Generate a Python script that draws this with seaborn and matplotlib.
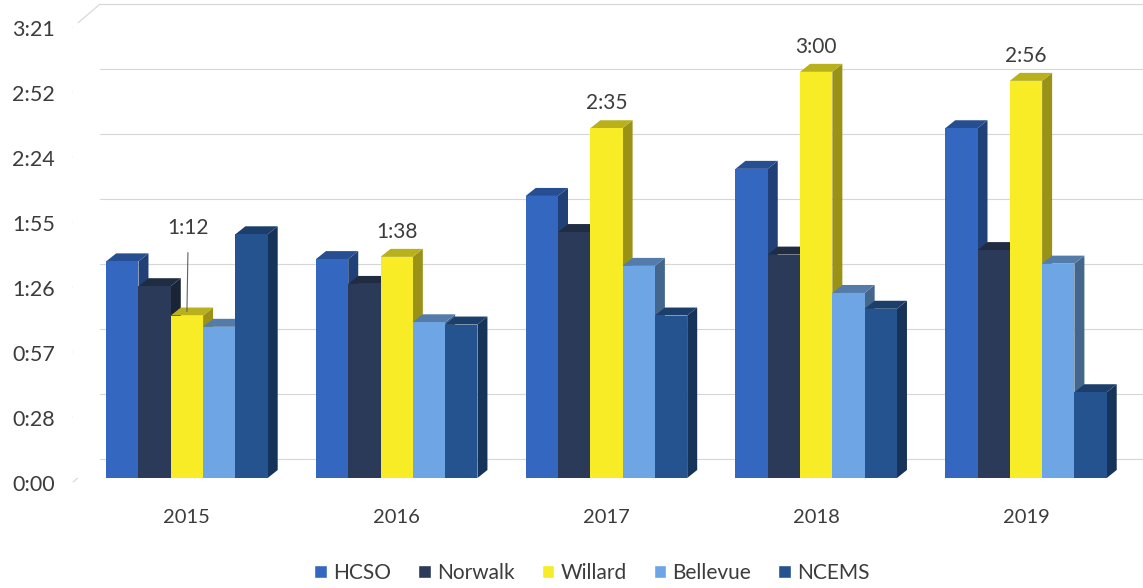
import numpy as np
import pandas as pd
import matplotlib.pyplot as plt
import seaborn as sns
from matplotlib.patches import Polygon, Rectangle
from matplotlib.lines import Line2D
from matplotlib.transforms import ScaledTranslation, IdentityTransform
from matplotlib.ticker import FuncFormatter
from matplotlib.colors import to_rgb

# response times in seconds
years = ["2015", "2016", "2017", "2018", "2019"]
agencies = ["HCSO", "Norwalk", "Willard", "Bellevue", "NCEMS"]
hcso = [96, 97, 125, 137, 155]
norwalk = [85, 86, 109, 99, 101]
willard = [72, 98, 155, 180, 176]
bellevue = [67, 69, 94, 82, 95]
ncems = [108, 68, 72, 75, 38]
colors = ["#3468c0", "#2a3a58", "#f7ec25", "#6ea5e4", "#24538f"]

series = [hcso, norwalk, willard, bellevue, ncems]
df = pd.DataFrame([
    {"Year": y, "Agency": a, "Seconds": vals[i]}
    for a, vals in zip(agencies, series)
    for i, y in enumerate(years)
])


def mmss(v, pos=None):
    s = int(v + 1e-6)
    return f"{s // 60}:{s % 60:02d}"


sns.set_style("white")
plt.rcParams["font.family"] = ["Lato", "DejaVu Sans"]

fig = plt.figure(figsize=(11.43, 5.88), dpi=100)
ax = fig.add_axes([0.0639, 0.1871, 0.9361, 0.7738])

sns.barplot(data=df, x="Year", y="Seconds", hue="Agency", order=years, hue_order=agencies,
            palette=colors, width=0.77, saturation=1, errorbar=None, legend=False, ax=ax)

ax.set_xlim(-0.543, 4.558)
ax.set_ylim(0, 201.65)
ticks = [28.8 * k for k in range(8)]
ax.set_yticks(ticks)
ax.yaxis.set_major_formatter(FuncFormatter(mmss))
ax.tick_params(axis="y", length=0, pad=13, labelsize=15.5, labelcolor="#3c3c3c")
ax.tick_params(axis="x", length=0, pad=22, labelsize=14.5, labelcolor="#3c3c3c")
ax.set_xlabel("")
ax.set_ylabel("")
ax.grid(False)
sns.despine(ax=ax, left=True, bottom=True)
for lab in ax.get_yticklabels():
    lab.set_transform(lab.get_transform() + ScaledTranslation(0, -0.05, fig.dpi_scale_trans))

# back wall gridlines with the little diagonal connectors
back = ScaledTranslation(0.27, 0.19, fig.dpi_scale_trans)
for t in ticks:
    ax.plot([0, 1], [t, t], transform=ax.get_yaxis_transform() + back,
            color="#d6d6d6", lw=0.8, zorder=0, clip_on=False)
    p0 = ax.get_yaxis_transform().transform((0, t))
    ln = Line2D([p0[0], p0[0] + 27], [p0[1] - 4, p0[1] + 19], transform=IdentityTransform(),
                color="#d6d6d6", lw=0.8, zorder=0)
    fig.add_artist(ln)

# fake 3D depth for each bar
ox, oy = ax.transData.transform((0, 0))
px_x = ax.transData.transform((1, 0))[0] - ox
px_y = ax.transData.transform((0, 1))[1] - oy
ddx, ddy = 10 / px_x, 8 / px_y

rects = sorted([r for c in ax.containers for r in c], key=lambda r: r.get_x())
for k, r in enumerate(rects):
    x0, w, h = r.get_x(), r.get_width(), r.get_height()
    x1 = x0 + w
    fc = np.array(to_rgb(r.get_facecolor()))
    z = 2 + 0.1 * k
    side = Polygon([(x1, 0), (x1, h), (x1 + ddx, h + ddy), (x1 + ddx, ddy)],
                   facecolor=fc * 0.62, edgecolor="none", zorder=z)
    top = Polygon([(x0, h), (x1, h), (x1 + ddx, h + ddy), (x0 + ddx, h + ddy)],
                  facecolor=fc * 0.75, edgecolor="none", zorder=z)
    ax.add_patch(side)
    ax.add_patch(top)
    r.set_zorder(z + 0.05)
    r.set_linewidth(0)

# data labels on Willard
for i, r in enumerate(ax.containers[2]):
    cx = r.get_x() + r.get_width() / 2
    h = r.get_height()
    if i == 0:
        ax.annotate(mmss(willard[i]), xy=(cx, h + ddy / 2), xytext=(1, 60), textcoords="offset points",
                    ha="center", va="center", fontsize=15, color="#3c3c3c", zorder=10,
                    arrowprops=dict(arrowstyle="-", color="#606060", lw=0.8, shrinkA=8, shrinkB=0))
    else:
        ax.annotate(mmss(willard[i]), xy=(cx, h), xytext=(0, 18), textcoords="offset points",
                    ha="center", va="center", fontsize=15, color="#3c3c3c", zorder=10)

handles = [Rectangle((0, 0), 1, 1, facecolor=c) for c in colors]
fig.legend(handles, agencies, loc="center", bbox_to_anchor=(0.518, 0.026), ncol=5, frameon=False,
           handlelength=0.6, handleheight=0.6, handletextpad=0.3, columnspacing=1.3,
           fontsize=15, labelcolor="#3c3c3c")

fig.savefig("out.png", dpi=100)
